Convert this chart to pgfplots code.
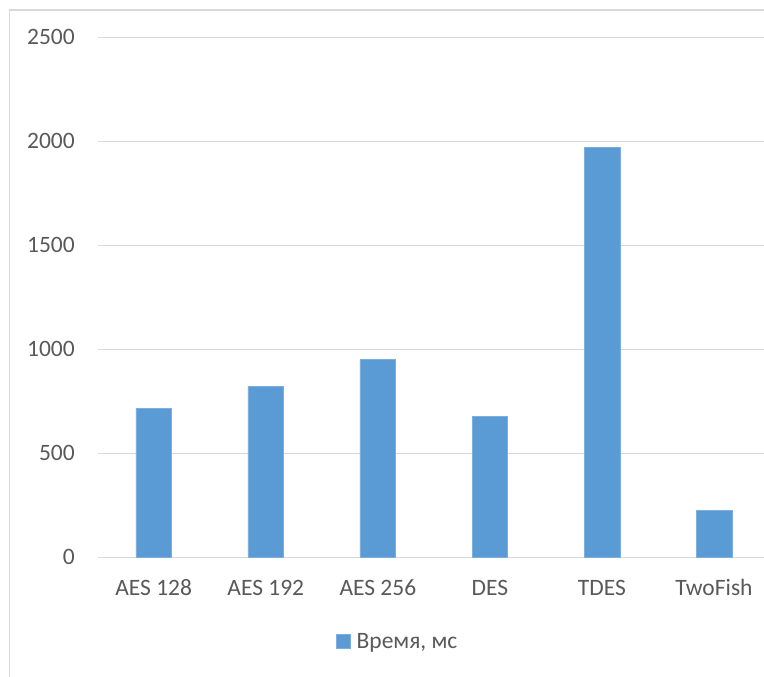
\documentclass[border=0pt]{standalone}
\usepackage{pgfplots}
\pgfplotsset{compat=1.18}
\usepackage{fontspec}
\setmainfont{Carlito}
\definecolor{barblue}{HTML}{5B9BD5}
\definecolor{gridgray}{HTML}{D9D9D9}
\definecolor{textgray}{HTML}{595959}
\begin{document}
\begin{tikzpicture}
\begin{axis}[
  name=main,
  scale only axis, width=666.3pt, height=520pt,
  xmin=-0.5, xmax=5.446, ymin=0, ymax=2500,
  ytick={0,500,1000,1500,2000,2500},
  xtick={0,1,2,3,4,5},
  xticklabels={AES 128, AES 192, AES 256, DES, TDES, TwoFish},
  axis line style={draw=none},
  major tick length=0pt,
  ymajorgrids, grid style={gridgray, line width=1.5pt},
  /pgf/number format/assume math mode=true,
  /pgf/number format/1000 sep={},
  tick label style={text=textgray, font=\fontsize{23.5}{28}\selectfont},
  yticklabel style={anchor=east, inner sep=0pt, xshift=-22.7pt},
  xticklabel style={anchor=base, inner sep=0pt, yshift=-38.4pt},
  legend style={at={(axis description cs:0.4488,-0.162)}, anchor=center,
    draw=none, fill=none, inner sep=0pt, column sep=6pt,
    nodes={inner sep=0pt, text=textgray, font=\fontsize{23.5}{28}\selectfont}},
  legend image code/.code={\fill[#1] (0pt,-7pt) rectangle (14pt,7pt);},
  clip=false,
]
\addplot[ybar, bar width=35.7pt, fill=barblue, draw=barblue!80!white, line width=0.6pt]
  coordinates {(0,716) (1,823) (2,952) (3,676) (4,1969) (5,225)};
\addlegendentry{Время, мс}
\end{axis}
\coordinate (O) at ([shift={(-97.7pt,-119.7pt)}]main.south west);
\draw[gridgray, line width=1.5pt] ([shift={(9.5pt,-5pt)}]O) -- ([shift={(9.5pt,667pt)}]O) -- ([shift={(770pt,667pt)}]O);
\pgfresetboundingbox
\useasboundingbox (O) rectangle ([shift={(764pt,677pt)}]O);
\end{tikzpicture}
\end{document}
